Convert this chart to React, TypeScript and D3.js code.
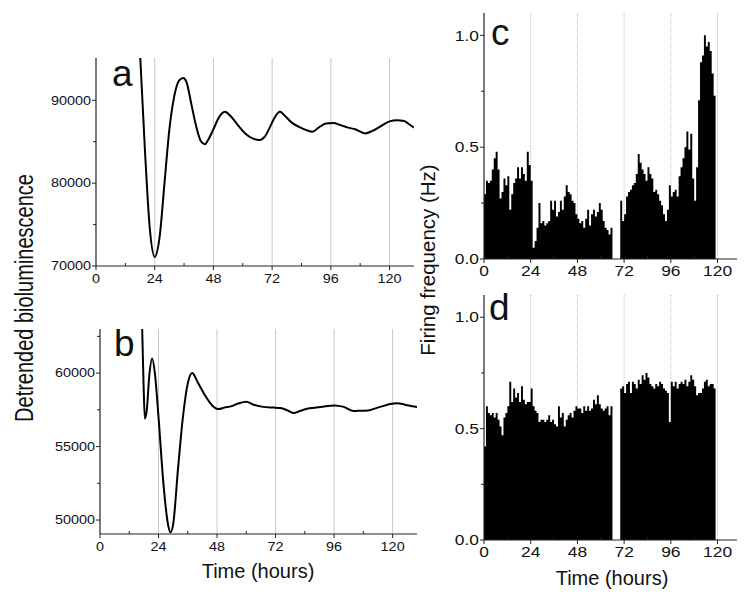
import { useEffect, useRef } from 'react';
import * as d3 from 'd3';

// panel a: detrended bioluminescence trace
const timeA = [16, 18, 20, 22, 24, 26, 28, 30, 32, 34, 35.7, 37, 39, 41, 43, 44.5, 46, 48, 50, 52.7, 55, 58, 61, 64, 67, 69, 71, 73, 75.2, 77, 80, 83, 86, 88.5, 91, 94, 97, 100, 103, 106, 110, 113, 116, 120, 123, 126, 128, 130];
const lumA = [105000, 95700, 84000, 74500, 71100, 73500, 80000, 86500, 90500, 92400, 92700, 92200, 89500, 86800, 85000, 84700, 85300, 86500, 87800, 88600, 88100, 87000, 86000, 85400, 85200, 85600, 86700, 87900, 88600, 88200, 87300, 86800, 86400, 86200, 86700, 87200, 87250, 87000, 86700, 86500, 86000, 86300, 86800, 87450, 87600, 87500, 87100, 86700];

// panel b
const timeB = [16.5, 17.3, 17.9, 18.4, 19.2, 20.2, 21.4, 22.5, 24, 26, 28, 28.9, 30, 32, 34, 36, 37.8, 40, 43, 46, 48.7, 51, 54, 57, 60, 63, 67, 71, 74, 77, 79.5, 82, 85, 88, 92, 96, 100, 104, 107, 110, 113, 116, 119, 122, 125, 128, 130];
const lumB = [70000, 63000, 59000, 56900, 57500, 59800, 61000, 60000, 57000, 52500, 49600, 49150, 49700, 53500, 57000, 59300, 60000, 59400, 58500, 57800, 57550, 57650, 57750, 57950, 58050, 57850, 57700, 57650, 57620, 57450, 57280, 57420, 57580, 57640, 57720, 57800, 57700, 57420, 57440, 57460, 57600, 57750, 57900, 57950, 57850, 57750, 57700];

// panels c and d: firing frequency, 1 h bins starting at 0 h (Hz)
const firingC = [
  0.29, 0.35, 0.34, 0.35, 0.40, 0.45, 0.48, 0.40, 0.27, 0.30, 0.36, 0.33, 0.37, 0.22, 0.29, 0.34, 0.36, 0.41, 0.36, 0.41, 0.38, 0.35, 0.48, 0.42,
  0.35, 0.05, 0.08, 0.14, 0.25, 0.16, 0.17, 0.15, 0.16, 0.17, 0.26, 0.22, 0.26, 0.19, 0.21, 0.26, 0.22, 0.28, 0.33, 0.30, 0.29, 0.26, 0.25, 0.20,
  0.18, 0.16, 0.17, 0.14, 0.18, 0.22, 0.15, 0.20, 0.22, 0.19, 0.21, 0.25, 0.22, 0.17, 0.14, 0.13, 0.11, 0.14, 0, 0, 0, 0, 0.26, 0.17,
  0.20, 0.28, 0.30, 0.31, 0.33, 0.34, 0.38, 0.47, 0.43, 0.40, 0.38, 0.35, 0.41, 0.38, 0.36, 0.30, 0.31, 0.29, 0.26, 0.24, 0.20, 0.17, 0.22, 0.33,
  0.28, 0.30, 0.31, 0.28, 0.37, 0.41, 0.45, 0.50, 0.57, 0.49, 0.56, 0.36, 0.26, 0.41, 0.71, 0.88, 0.91, 1.0, 0.95, 0.97, 0.93, 0.83, 0.73,
];
const firingD = [
  0.42, 0.60, 0.57, 0.56, 0.57, 0.55, 0.57, 0.54, 0.51, 0.47, 0.55, 0.57, 0.60, 0.71, 0.62, 0.68, 0.64, 0.66, 0.62, 0.69, 0.63, 0.61, 0.62, 0.62,
  0.68, 0.60, 0.58, 0.57, 0.53, 0.54, 0.54, 0.53, 0.54, 0.56, 0.53, 0.54, 0.52, 0.51, 0.60, 0.55, 0.57, 0.51, 0.54, 0.56, 0.57, 0.55, 0.58, 0.60,
  0.59, 0.59, 0.57, 0.60, 0.58, 0.60, 0.58, 0.59, 0.63, 0.61, 0.65, 0.61, 0.59, 0.58, 0.59, 0.60, 0.56, 0.60, 0, 0, 0, 0, 0.68, 0.69,
  0.66, 0.70, 0.71, 0.66, 0.71, 0.70, 0.68, 0.72, 0.70, 0.74, 0.72, 0.75, 0.73, 0.70, 0.69, 0.68, 0.70, 0.69, 0.71, 0.70, 0.68, 0.67, 0.66, 0.53,
  0.71, 0.69, 0.71, 0.68, 0.70, 0.71, 0.70, 0.72, 0.69, 0.71, 0.74, 0.72, 0.69, 0.65, 0.66, 0.66, 0.68, 0.71, 0.72, 0.69, 0.70, 0.70, 0.68,
];

const hourTicks = [0, 24, 48, 72, 96, 120];
const hourMinor = [12, 36, 60, 84, 108];
const gridHours = [24, 48, 72, 96, 120];
const ticksA = [70000, 80000, 90000];
const minorA = [75000, 85000];
const ticksB = [50000, 55000, 60000];
const minorB = [52500, 57500, 62500];
const ticksHz = [0, 0.5, 1.0];
const minorHz = [0.25, 0.75];

const FONT = '"Liberation Sans", Arial, Helvetica, sans-serif';

type Panel = {
  left: number; right: number; top: number; bottom: number;
  xMax: number; yDomain: [number, number];
  yTicks: number[]; yMinor: number[]; yFmt: (v: number) => string;
  letter: string; letterDx: number; letterDy: number; dotted: boolean;
  tickSize: number;
};

const App = () => {
  const svgRef = useRef<SVGSVGElement>(null);

  useEffect(() => {
    if (!svgRef.current) return;
    const svg = d3.select(svgRef.current);
    svg.selectAll('*').remove();

    const drawFrame = (p: Panel) => {
      const x = d3.scaleLinear().domain([0, p.xMax]).range([p.left, p.right]);
      const y = d3.scaleLinear().domain(p.yDomain).range([p.bottom, p.top]);
      const g = svg.append('g');

      // vertical grid at each day
      g.selectAll('line.grid').data(gridHours).enter().append('line')
        .attr('x1', d => x(d)).attr('x2', d => x(d))
        .attr('y1', p.top).attr('y2', p.bottom)
        .attr('stroke', p.dotted ? '#b8b8b8' : '#c8c8c8')
        .attr('stroke-width', 1)
        .attr('stroke-dasharray', p.dotted ? '1,1' : null);

      return { x, y };
    };

    const drawAxes = (p: Panel, x: d3.ScaleLinear<number, number>, y: d3.ScaleLinear<number, number>) => {
      const g = svg.append('g').attr('font-family', FONT).attr('fill', '#111');
      const sx = 1.2;
      g.append('line').attr('x1', p.left).attr('x2', p.right).attr('y1', p.bottom).attr('y2', p.bottom)
        .attr('stroke', '#222').attr('stroke-width', 1.2);
      g.append('line').attr('x1', p.left).attr('x2', p.left).attr('y1', p.top).attr('y2', p.bottom)
        .attr('stroke', '#222').attr('stroke-width', 1.2);

      g.selectAll('line.xt').data(hourTicks).enter().append('line')
        .attr('x1', d => x(d)).attr('x2', d => x(d)).attr('y1', p.bottom).attr('y2', p.bottom + 4)
        .attr('stroke', '#222');
      g.selectAll('line.xm').data(hourMinor).enter().append('line')
        .attr('x1', d => x(d)).attr('x2', d => x(d)).attr('y1', p.bottom - 3).attr('y2', p.bottom)
        .attr('stroke', '#222');
      g.selectAll('text.xl').data(hourTicks).enter().append('text')
        .attr('transform', d => `translate(${x(d)},${p.bottom + 17}) scale(${sx},1)`)
        .attr('text-anchor', 'middle').attr('font-size', p.tickSize)
        .text(d => d);

      g.selectAll('line.yt').data(p.yTicks).enter().append('line')
        .attr('x1', p.left - 4).attr('x2', p.left).attr('y1', d => y(d)).attr('y2', d => y(d))
        .attr('stroke', '#222');
      g.selectAll('line.ym').data(p.yMinor).enter().append('line')
        .attr('x1', p.left - 3).attr('x2', p.left).attr('y1', d => y(d)).attr('y2', d => y(d))
        .attr('stroke', '#222');
      g.selectAll('text.yl').data(p.yTicks).enter().append('text')
        .attr('transform', d => `translate(${p.left - 5},${y(d) + p.tickSize * 0.36}) scale(${sx},1)`)
        .attr('text-anchor', 'end').attr('font-size', p.tickSize)
        .text(d => p.yFmt(d));

      g.append('text')
        .attr('x', p.left + p.letterDx).attr('y', p.top + p.letterDy)
        .attr('font-size', 37)
        .text(p.letter);
    };

    const drawLine = (p: Panel, times: number[], vals: number[]) => {
      const { x, y } = drawFrame(p);
      const clipId = 'clip-' + p.letter;
      svg.append('clipPath').attr('id', clipId).append('rect')
        .attr('x', p.left).attr('y', p.top).attr('width', p.right - p.left).attr('height', p.bottom - p.top);
      const line = d3.line<number>()
        .x((_, i) => x(times[i]))
        .y(d => y(d))
        .curve(d3.curveMonotoneX);
      svg.append('path').datum(vals)
        .attr('clip-path', `url(#${clipId})`)
        .attr('fill', 'none').attr('stroke', '#000').attr('stroke-width', 2)
        .attr('d', line);
      drawAxes(p, x, y);
    };

    const drawHist = (p: Panel, bins: number[]) => {
      const { x, y } = drawFrame(p);
      // split into runs of non-zero bins (recording gap)
      const runs: [number, number][][] = [];
      let cur: [number, number][] = [];
      bins.forEach((v, i) => {
        if (v > 0) {
          cur.push([i, v]);
        } else if (cur.length) {
          runs.push(cur); cur = [];
        }
      });
      if (cur.length) runs.push(cur);
      const area = d3.area<[number, number]>()
        .x(d => x(d[0])).y0(y(0)).y1(d => y(d[1]))
        .curve(d3.curveStepAfter);
      runs.forEach(run => {
        const last = run[run.length - 1];
        svg.append('path').datum([...run, [last[0] + 1, last[1]] as [number, number]])
          .attr('fill', '#000').attr('d', area);
      });
      drawAxes(p, x, y);
    };

    drawLine({ left: 96, right: 414, top: 58, bottom: 266, xMax: 130, yDomain: [70000, 95100],
      yTicks: ticksA, yMinor: minorA, yFmt: d => String(d), letter: 'a', letterDx: 16, letterDy: 28,
      dotted: false, tickSize: 12 }, timeA, lumA);
    drawLine({ left: 100, right: 417, top: 329, bottom: 534, xMax: 130, yDomain: [49050, 63000],
      yTicks: ticksB, yMinor: minorB, yFmt: d => String(d), letter: 'b', letterDx: 14, letterDy: 27,
      dotted: false, tickSize: 12 }, timeB, lumB);
    drawHist({ left: 484, right: 737, top: 13, bottom: 259, xMax: 130, yDomain: [0, 1.1],
      yTicks: ticksHz, yMinor: minorHz, yFmt: d => d.toFixed(1), letter: 'c', letterDx: 7, letterDy: 32,
      dotted: true, tickSize: 14.5 }, firingC);
    drawHist({ left: 484, right: 737, top: 295, bottom: 540, xMax: 130, yDomain: [0, 1.1],
      yTicks: ticksHz, yMinor: minorHz, yFmt: d => d.toFixed(1), letter: 'd', letterDx: 5, letterDy: 25,
      dotted: true, tickSize: 14.5 }, firingD);

    // axis titles
    const t = svg.append('g').attr('font-family', FONT).attr('fill', '#111');
    t.append('text').attr('transform', 'translate(33,298) rotate(-90) scale(1,1.3)')
      .attr('text-anchor', 'middle').attr('font-size', 20).text('Detrended bioluminescence');
    t.append('text').attr('transform', 'translate(435,260) rotate(-90)')
      .attr('text-anchor', 'middle').attr('font-size', 20.5).text('Firing frequency (Hz)');
    t.append('text').attr('x', 258).attr('y', 578)
      .attr('text-anchor', 'middle').attr('font-size', 20).text('Time (hours)');
    t.append('text').attr('x', 612).attr('y', 585)
      .attr('text-anchor', 'middle').attr('font-size', 20).text('Time (hours)');
  }, []);

  return (
    <svg ref={svgRef} width={751} height={604}
      style={{ position: 'absolute', left: 0, top: 0, background: '#fff', display: 'block' }} />
  );
};

export default App;
